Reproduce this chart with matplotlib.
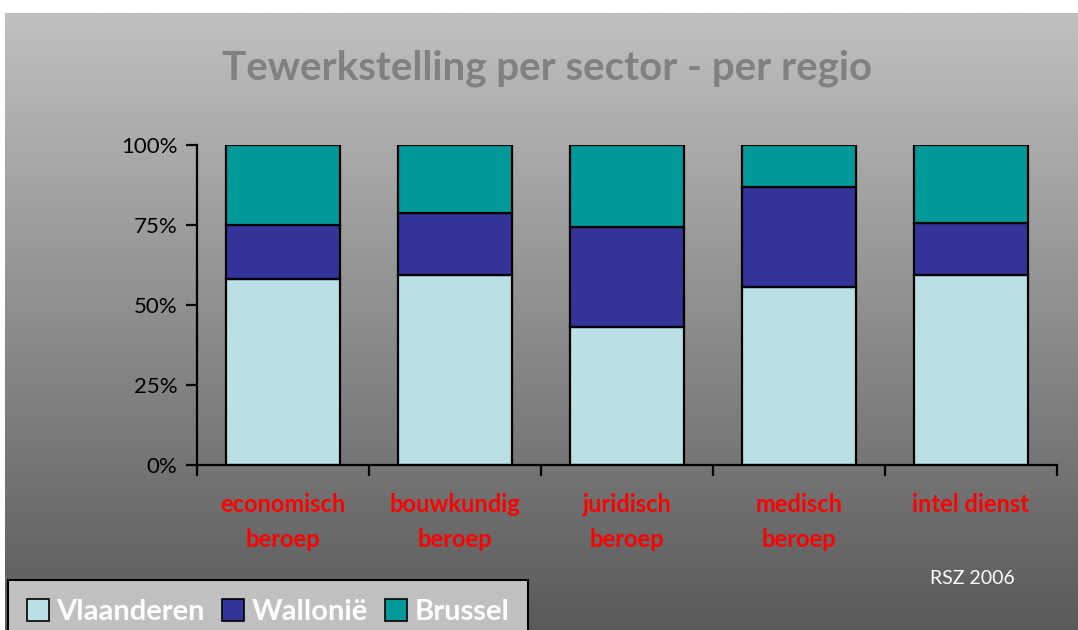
import matplotlib
matplotlib.use("Agg")
import matplotlib.pyplot as plt
import numpy as np
from matplotlib.patches import Patch

categories = ["economisch\nberoep", "bouwkundig\nberoep", "juridisch\nberoep", "medisch\nberoep", "intel dienst"]
series_names = ["Vlaanderen", "Wallonië", "Brussel"]
vlaanderen = [58.1, 59.4, 43.1, 55.7, 59.4]
wallonie = [16.9, 19.4, 31.3, 31.1, 16.2]
brussel = [25.0, 21.2, 25.6, 13.2, 24.4]
colors = ["#BBE0E3", "#333399", "#009999"]
yticks = [0, 25, 50, 75, 100]
ytick_labels = ["0%", "25%", "50%", "75%", "100%"]

W, H = 1078, 630
fig = plt.figure(figsize=(W / 100, H / 100), dpi=100)
fig.patch.set_facecolor("white")

# gradient background
bg = fig.add_axes([5 / W, 0, 1 - 5 / W, 1 - 13 / H], zorder=0)
grad = np.linspace(192, 90, 256)[:, None] / 255.0
img = np.dstack([grad, grad, grad])
bg.imshow(img, aspect="auto", extent=[0, 1, 0, 1], interpolation="bilinear")
bg.set_axis_off()

fam = ["Lato", "DejaVu Sans"]
fig.text(0.5 * (218 + 877) / W, 1 - 68 / H, "Tewerkstelling per sector - per regio",
         ha="center", va="center", fontsize=29, fontweight="bold", color="#808080", family=fam)

ax = fig.add_axes([197 / W, 1 - 465 / H, (1057 - 197) / W, (465 - 145) / H], zorder=1)
ax.patch.set_alpha(0)
x = np.arange(len(categories))
bw = 0.66
data = [vlaanderen, wallonie, brussel]
bottom = np.zeros(len(categories))
for vals, c, name in zip(data, colors, series_names):
    ax.bar(x, vals, bw, bottom=bottom, color=c, edgecolor="black", linewidth=1.6, label=name, zorder=2)
    bottom = bottom + np.array(vals)

ax.set_xlim(-0.5, len(categories) - 0.5)
ax.set_ylim(0, 100)
ax.set_yticks(yticks)
ax.set_yticklabels(ytick_labels, fontsize=16, family=fam, color="black")
ax.set_xticks(np.arange(len(categories) + 1) - 0.5)
ax.set_xticklabels([])
ax.set_xticks(x, minor=True)
ax.set_xticklabels(categories, minor=True, fontsize=17, fontweight="bold", color="#FF0000", family=fam,
                   linespacing=1.65, va="top")
ax.tick_params(axis="x", which="minor", length=0, pad=20)
ax.tick_params(axis="x", which="major", length=8, width=1.6, direction="out")
ax.tick_params(axis="y", length=8, width=1.6, direction="out", pad=6)
for s in ["top", "right"]:
    ax.spines[s].set_visible(False)
for s in ["left", "bottom"]:
    ax.spines[s].set_linewidth(1.6)

fig.text(972 / W, 1 - 579 / H, "RSZ 2006", ha="center", va="center", fontsize=14, color="white", family=fam)

handles = [Patch(facecolor=c, edgecolor="black", linewidth=1.2) for c in colors]
leg = fig.legend(handles, series_names, loc="lower left", bbox_to_anchor=(8 / W, -14 / H), ncol=3,
                 frameon=True, fancybox=False, facecolor="#C0C0C0", edgecolor="black", framealpha=1,
                 prop={"family": fam, "weight": "bold", "size": 21}, handlelength=0.75, handleheight=0.75,
                 handletextpad=0.25, columnspacing=0.6, borderpad=0.65, borderaxespad=0)
leg.get_frame().set_linewidth(1.5)
for t in leg.get_texts():
    t.set_color("white")

fig.savefig("out.png", dpi=100)
